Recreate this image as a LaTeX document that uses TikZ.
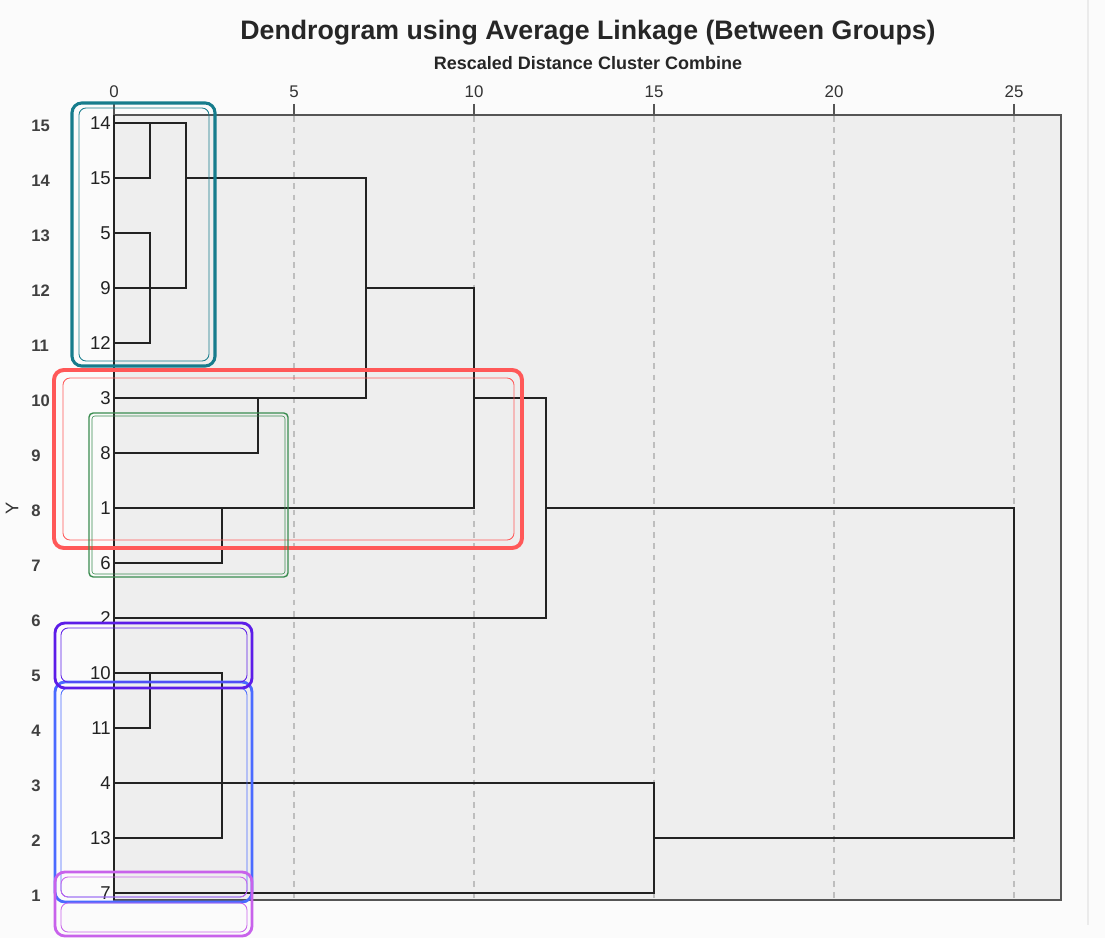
\documentclass[tikz,border=0pt]{standalone}
\usepackage{fontspec}
\setmainfont{Liberation Sans}
\usepackage{tikz}
\usetikzlibrary{positioning}
\definecolor{pagebg}{RGB}{251, 251, 251}
\definecolor{plotbg}{RGB}{238, 238, 238}
\definecolor{framegray}{RGB}{85, 85, 85}
\definecolor{gridgray}{RGB}{190, 190, 190}
\definecolor{linkblack}{RGB}{34, 34, 34}
\definecolor{tealbox}{RGB}{22, 124, 140}
\definecolor{redbox}{RGB}{255, 88, 88}
\definecolor{greenbox}{RGB}{58, 140, 80}
\definecolor{purplebox}{RGB}{92, 28, 232}
\definecolor{bluebox}{RGB}{74, 106, 255}
\definecolor{violetbox}{RGB}{200, 98, 235}

\tikzset{
    leaf/.style={anchor=east, inner sep=0pt, font=\fontsize{13.2}{15}\selectfont, text=linkblack},
    ylab/.style={anchor=west, inner sep=0pt, font=\fontsize{11.8}{13}\selectfont\bfseries, text=black!75},
    ticklab/.style={inner sep=0pt, font=\fontsize{12}{14}\selectfont, text=black!80},
    link/.style={draw=linkblack, line width=1.7pt},
    grid/.style={draw=gridgray, line width=0.8pt, dash pattern=on 4pt off 4pt},
    outerbox/.style={line width=2pt, rounded corners=7pt},
    innerbox/.style={line width=0.6pt, rounded corners=5pt}
}

\begin{document}
\begin{tikzpicture}[x=0.025cm, y=-0.025cm]
\useasboundingbox (0,0) rectangle (1105,938);
\fill[pagebg] (0,0) rectangle (1105,938);
\draw[black!8, line width=0.8pt] (1088,0) -- (1088,925);

% titles
\node[font=\fontsize{19}{22}\selectfont\bfseries, text=black!85] (title) at (588,33)
    {Dendrogram using Average Linkage (Between Groups)};
\node[font=\fontsize{12.8}{15}\selectfont\bfseries, text=black!85] (subtitle) at (588,63)
    {Rescaled Distance Cluster Combine};

% plot area
\draw[fill=plotbg, draw=framegray, line width=1.4pt] (114,115) rectangle (1061,900);
\foreach \d in {5,10,...,25}
    \draw[grid] ({114+36*\d},116) -- ({114+36*\d},899);
\foreach \d in {0,5,...,25} {
    \draw[framegray, line width=1.2pt] ({114+36*\d},104) -- ({114+36*\d},115);
    \node[ticklab] (t\d) at ({114+36*\d},92) {\d};
}

% merge levels
\foreach \d in {1,2,3,4,7,10,12,15,25}
    \coordinate (L\d) at ({114+36*\d},115);

% leaves
\foreach \lab [count=\i] in {14,15,5,9,12,3,8,1,6,2,10,11,4,13,7} {
    \coordinate (c\lab) at (114,{123+55*(\i-1)});
    \node[leaf] (n\lab) at (111,{123+55*(\i-1)}) {\lab};
}
\foreach \k in {1,...,15}
    \node[ylab] (y\k) at (31,{123+55*(15-\k)+3}) {\k};
\node[rotate=90, inner sep=0pt, font=\fontsize{13}{15}\selectfont, text=black!80] (yaxis) at (12,508) {Y};

% links
\draw[link] (114,115) -- (114,900);
\draw[link] (c14) -- (c14 -| L2) -- (c9 -| L2) -- (c9);
\draw[link] (c14 -| L1) -- (c15 -| L1) -- (c15);
\draw[link] (c15 -| L2) -- (c15 -| L7) -- (c3 -| L7) -- (c3);
\draw[link] (c5) -- (c5 -| L1) -- (c12 -| L1) -- (c12);
\draw[link] (c9 -| L7) -- (c9 -| L10) -- (c1 -| L10) -- (c1);
\draw[link] (c3 -| L10) -- (c3 -| L12) -- (c2 -| L12) -- (c2);
\draw[link] (c3 -| L4) -- (c8 -| L4) -- (c8);
\draw[link] (c1 -| L3) -- (c6 -| L3) -- (c6);
\draw[link] (c1 -| L12) -- (c1 -| L25) -- (c13 -| L25) -- (c13 -| L15);
\draw[link] (c10) -- (c10 -| L3) -- (c13 -| L3) -- (c13);
\draw[link] (c10 -| L1) -- (c11 -| L1) -- (c11);
\draw[link] (c4) -- (c4 -| L15) -- (c7 -| L15) -- (c7);

% cluster boxes
\draw[tealbox, outerbox, line width=2.2pt] (72,103) rectangle (215,366);
\draw[tealbox, innerbox] (79,108) rectangle (209,361);
\draw[redbox, outerbox, line width=2.8pt] (54,370) rectangle (522,548);
\draw[redbox, innerbox] (63,378) rectangle (514,540);
\draw[greenbox, line width=1pt, rounded corners=3pt] (89,413) rectangle (288,577);
\draw[greenbox, line width=0.4pt, rounded corners=2pt] (92,416) rectangle (285,574);
\draw[bluebox, outerbox] (55,682) rectangle (252,902);
\draw[bluebox, innerbox] (61,688) rectangle (247,897);
\draw[purplebox, outerbox] (55,623) rectangle (252,688);
\draw[purplebox, innerbox] (61,628) rectangle (247,682);
\draw[violetbox, outerbox] (55,872) rectangle (252,936);
\draw[violetbox, innerbox] (61,877) rectangle (247,897);
\draw[violetbox, innerbox] (61,903) rectangle (247,932);
\end{tikzpicture}
\end{document}
